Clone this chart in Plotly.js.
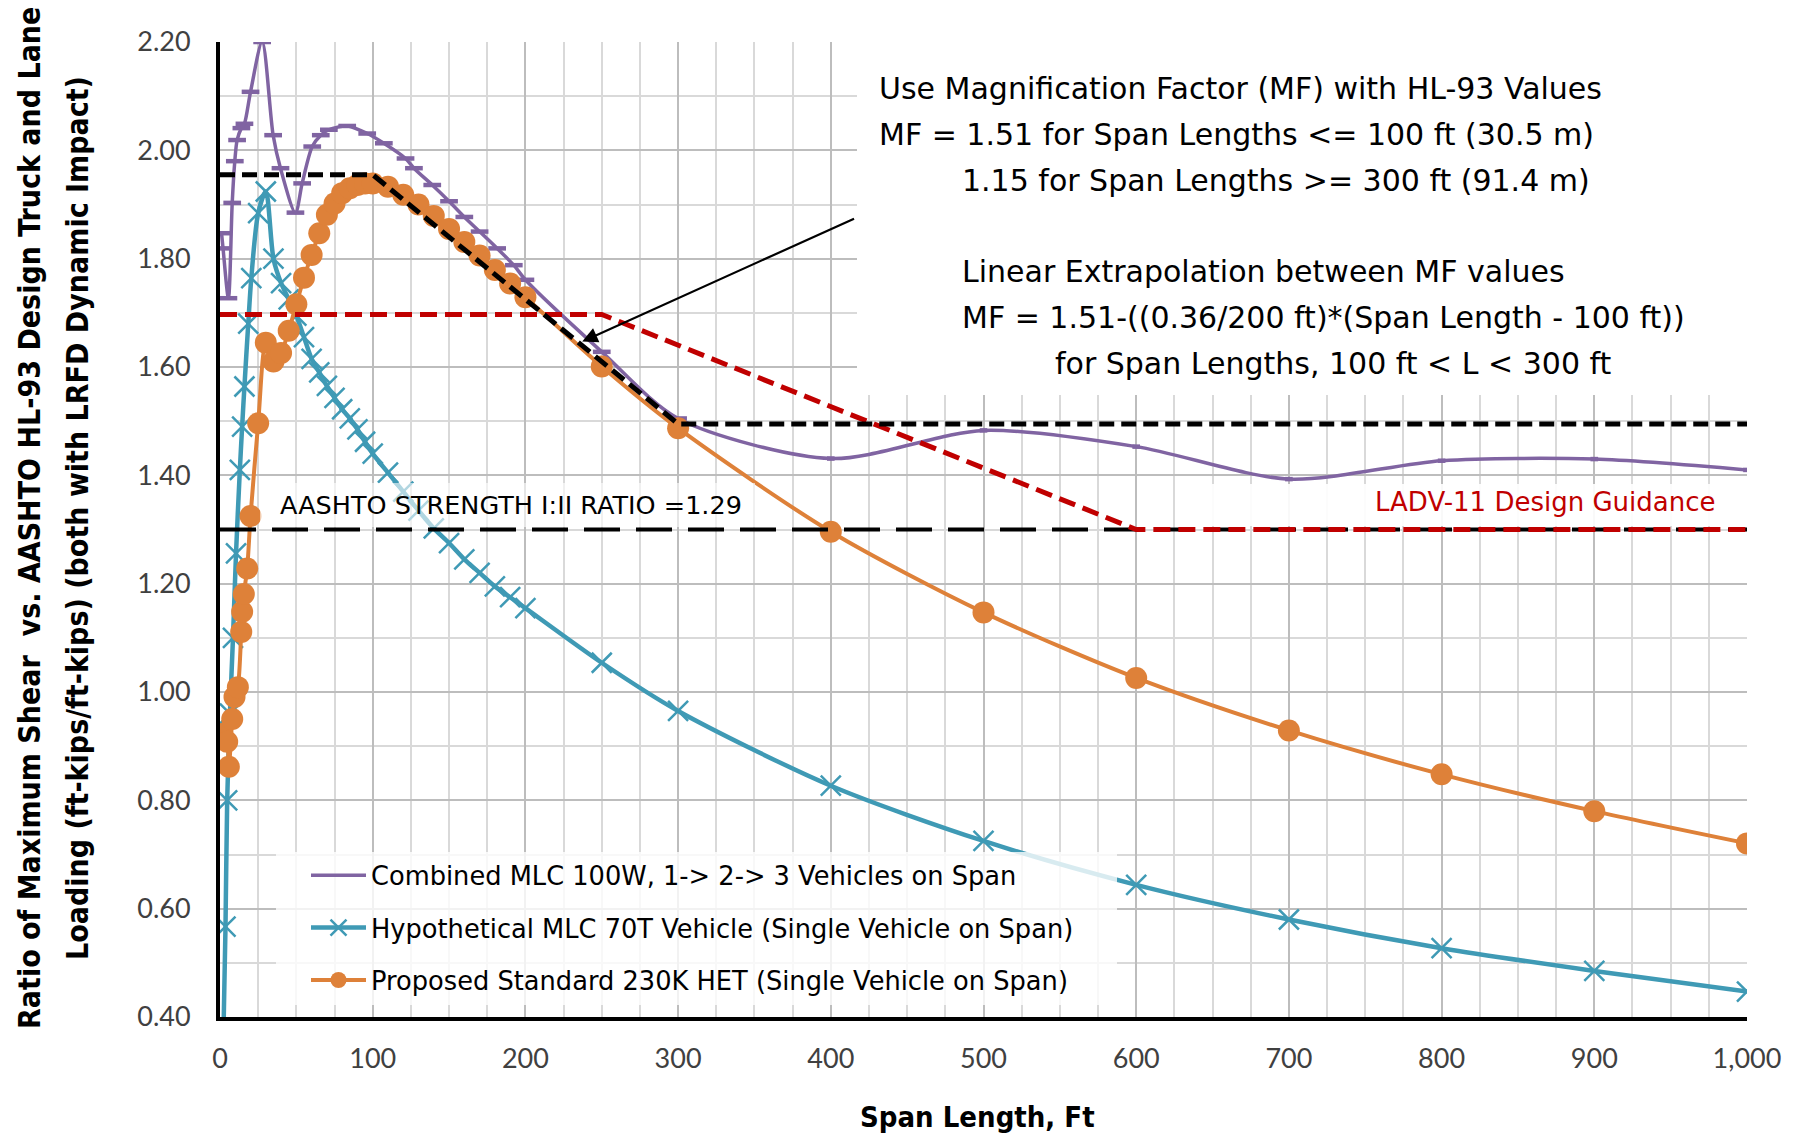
<!DOCTYPE html>
<html><head><meta charset="utf-8">
<script src="https://cdn.plot.ly/plotly-3.0.1.min.js"></script>
<style>html,body{margin:0;padding:0;background:#fff;}#chart{width:1802px;height:1141px;}</style>
</head><body><div id="chart"></div>
<script>
// ---- data ----
const combinedX = [1, 2, 5.5, 8, 9.7, 11.2, 14, 16, 20, 27.6, 34.8, 39.6, 49.4, 53.8, 60.4, 66, 71.3, 83.3, 96.4, 107.3, 121.5, 127, 139, 150, 160, 170, 181.5, 192.4, 200, 250, 300, 400, 500, 600, 700, 800, 900, 1000];
const combinedY = [1.847, 1.819, 1.727, 1.903, 1.98, 2.019, 2.041, 2.049, 2.108, 2.20, 2.028, 1.967, 1.885, 1.939, 2.007, 2.028, 2.038, 2.045, 2.031, 2.013, 1.985, 1.967, 1.936, 1.906, 1.877, 1.850, 1.819, 1.788, 1.761, 1.628, 1.505, 1.431, 1.483, 1.453, 1.393, 1.427, 1.430, 1.410];

const hypoX = [2, 3.6, 4.7, 6.5, 8.5, 10.5, 13, 14.5, 16, 18.5, 20.5, 25, 30, 35, 40, 45, 50, 55, 60, 65, 70, 75, 80, 85, 90, 95, 100, 110, 120, 130, 140, 150, 160, 170, 180, 190, 200, 250, 300, 400, 500, 600, 700, 800, 900, 1000];
const hypoY = [0.33, 0.567, 0.80, 0.96, 1.10, 1.256, 1.41, 1.49, 1.564, 1.68, 1.764, 1.884, 1.924, 1.80, 1.755, 1.725, 1.695, 1.655, 1.615, 1.59, 1.565, 1.543, 1.522, 1.505, 1.485, 1.462, 1.44, 1.405, 1.37, 1.335, 1.302, 1.275, 1.245, 1.22, 1.195, 1.175, 1.155, 1.054, 0.965, 0.827, 0.725, 0.644, 0.58, 0.527, 0.485, 0.447];

const hetX = [1.4, 4.7, 5.8, 8, 9.5, 11.7, 13.9, 14.5, 15.6, 17.8, 20, 25, 30, 35, 40, 45, 50, 55, 60, 65, 70, 75, 80, 85, 90, 95, 100, 110, 120, 130, 140, 150, 160, 170, 180, 190, 200, 250, 300, 400, 500, 600, 700, 800, 900, 1000];
const hetY = [0.9225, 0.908, 0.862, 0.95, 0.991, 1.009, 1.111, 1.148, 1.181, 1.228, 1.325, 1.496, 1.645, 1.610, 1.626, 1.667, 1.716, 1.765, 1.807, 1.847, 1.881, 1.902, 1.921, 1.930, 1.936, 1.939, 1.939, 1.933, 1.918, 1.900, 1.879, 1.855, 1.831, 1.806, 1.779, 1.754, 1.729, 1.601, 1.487, 1.296, 1.147, 1.026, 0.929, 0.848, 0.780, 0.7205];

const mfX = [0, 100, 300, 1000];
const mfY = [1.955, 1.955, 1.495, 1.495];
const ladvX = [0, 250, 600, 1000];
const ladvY = [1.697, 1.697, 1.30, 1.30];
const strengthX = [0, 1000];
const strengthY = [1.30, 1.30];

const seriesNames = [
  "Combined MLC 100W, 1-> 2-> 3 Vehicles on Span",
  "Hypothetical MLC 70T Vehicle (Single Vehicle on Span)",
  "Proposed Standard 230K HET (Single Vehicle on Span)"
];
const noteLines = [
  "Use Magnification Factor (MF) with HL-93 Values",
  "MF = 1.51 for Span Lengths <= 100 ft (30.5 m)",
  "1.15 for Span Lengths >= 300 ft (91.4 m)",
  "Linear Extrapolation between MF values",
  "MF = 1.51-((0.36/200 ft)*(Span Length - 100 ft))",
  "for Span Lengths, 100 ft < L < 300 ft"
];
const strengthLabel = "AASHTO STRENGTH I:II RATIO =1.29";
const ladvLabel = "LADV-11 Design Guidance";
const yTitle1 = "Ratio of Maximum Shear \u00a0vs. AASHTO HL-93 Design Truck and Lane";
const yTitle2 = "Loading (ft-kips/ft-kips) (both with LRFD Dynamic Impact)";
const xTitle = "Span Length, Ft";

// ---- layout helpers (pixel -> paper) ----
const W = 1802, H = 1141, ML = 220, MR = 55, MT = 42, MB = 124;
const PW = W - ML - MR, PH = H - MT - MB;
const px = X => (X - ML) / PW;
const py = Y => (H - MB - Y) / PH;

const TXT = "'DejaVu Sans', 'Open Sans', sans-serif";
const TICKF = "Lato, 'Open Sans', sans-serif";
const TITLEF = "'DejaVu Sans Condensed', 'DejaVu Sans', sans-serif";

const purple = "#8064A2", teal = "#3F9AB5", orange = "#DE8139", red = "#C00000";

const traces = [
  {x: combinedX, y: combinedY, name: seriesNames[0], type: "scatter", mode: "lines",
   legendgroup: "a",
   line: {color: purple, width: 3.5, shape: "spline", smoothing: 0.8},
   // horizontal dash markers (Excel "-" marker) drawn as short x-error bars
   error_x: {type: "data", symmetric: true, array: combinedX.map(v => v <= 300 ? 5.8 : 2.5),
             color: purple, thickness: 4.5, width: 0}},
  {x: hypoX, y: hypoY, name: seriesNames[1], type: "scatter", mode: "lines+markers",
   legendgroup: "b",
   line: {color: teal, width: 4.5, shape: "spline", smoothing: 0.8},
   marker: {symbol: "x-thin-open", color: teal, size: 20, line: {color: teal, width: 2.5}}},
  {x: hetX, y: hetY, name: seriesNames[2], type: "scatter", mode: "lines+markers",
   legendgroup: "c",
   line: {color: orange, width: 4, shape: "spline", smoothing: 0.8},
   marker: {symbol: "circle", size: 22, color: orange}},
  {x: strengthX, y: strengthY, type: "scatter", mode: "lines", showlegend: false, hoverinfo: "skip",
   line: {color: "#000", width: 4, dash: "36px,16px"}},
  {x: ladvX, y: ladvY, type: "scatter", mode: "lines", showlegend: false, hoverinfo: "skip",
   line: {color: red, width: 5, dash: "17px,8px"}},
  {x: mfX, y: mfY, type: "scatter", mode: "lines", showlegend: false, hoverinfo: "skip",
   line: {color: "#000", width: 5, dash: "15px,7px"}}
];

const noteX = [877, 877, 960, 960, 960, 1053];
const noteY = [88.5, 134.4, 180.4, 271, 317, 363];
const annotations = noteLines.map((t, i) => ({
  text: t, xref: "paper", yref: "paper", x: px(noteX[i]), y: py(noteY[i]),
  xanchor: "left", yanchor: "middle", showarrow: false,
  font: {family: TXT, size: 30, color: "#000"}
}));
annotations.push(
  {text: strengthLabel, xref: "paper", yref: "paper", x: px(278), y: py(505), xanchor: "left", yanchor: "middle",
   showarrow: false, font: {family: TXT, size: 25.5, color: "#000"}},
  {text: ladvLabel, xref: "paper", yref: "paper", x: px(1373), y: py(502), xanchor: "left", yanchor: "middle",
   showarrow: false, font: {family: TXT, size: 26, color: red}},
  {text: "", x: 237.2, y: 1.647, xref: "x", yref: "y", ax: 416.2, ay: 1.875, axref: "x", ayref: "y",
   showarrow: true, arrowhead: 2, arrowsize: 1.4, arrowwidth: 2.2, arrowcolor: "#000"},
  {text: yTitle1, xref: "paper", yref: "paper", x: px(29), y: py(518), xanchor: "center", yanchor: "middle",
   textangle: -90, showarrow: false, font: {family: TITLEF, size: 30, color: "#000", weight: "bold"}},
  {text: yTitle2, xref: "paper", yref: "paper", x: px(77), y: py(518), xanchor: "center", yanchor: "middle",
   textangle: -90, showarrow: false, font: {family: TITLEF, size: 30, color: "#000", weight: "bold"}},
  {text: xTitle, xref: "paper", yref: "paper", x: px(977), y: py(1117), xanchor: "center", yanchor: "middle",
   showarrow: false, font: {family: TITLEF, size: 29, color: "#000", weight: "bold"}}
);

const shapes = [
  {type: "rect", xref: "paper", yref: "paper", x0: px(857), x1: 1, y0: py(395), y1: 1,
   fillcolor: "#fff", line: {width: 0}, layer: "above"},
  {type: "rect", xref: "paper", yref: "paper", x0: px(260), x1: px(755), y0: py(527), y1: py(483),
   fillcolor: "rgba(255,255,255,0.6)", line: {width: 0}, layer: "above"},
  {type: "rect", xref: "paper", yref: "paper", x0: px(1180), x1: 1, y0: py(526), y1: py(484),
   fillcolor: "rgba(255,255,255,0.9)", line: {width: 0}, layer: "above"},
  {type: "rect", xref: "paper", yref: "paper", x0: px(276), x1: px(1117), y0: py(1005), y1: py(852),
   fillcolor: "rgba(255,255,255,0.8)", line: {width: 0}, layer: "above"}
];

const layout = {
  width: W, height: H,
  margin: {l: ML, r: MR, t: MT, b: MB, pad: 0},
  paper_bgcolor: "#fff", plot_bgcolor: "#fff",
  showlegend: true,
  legend: {x: px(306), y: py(852), xanchor: "left", yanchor: "top",
           bgcolor: "rgba(255,255,255,0)", borderwidth: 0,
           font: {family: TXT, size: 25.7, color: "#000"}, tracegroupgap: 16, itemwidth: 55},
  xaxis: {range: [0, 1000], dtick: 100, tickformat: ",", showgrid: true, gridcolor: "#BDBDBD", gridwidth: 2,
          minor: {dtick: 25, showgrid: true, gridcolor: "#D9D9D9", gridwidth: 1.5},
          zeroline: false, showline: true, linecolor: "#000", linewidth: 4, ticks: "",
          ticklabelstandoff: 15,
          tickfont: {family: TICKF, size: 27, color: "#404040"}},
  yaxis: {range: [0.4, 2.2], dtick: 0.2, tickformat: ".2f", showgrid: true, gridcolor: "#BDBDBD", gridwidth: 2,
          minor: {dtick: 0.1, showgrid: true, gridcolor: "#D9D9D9", gridwidth: 1.5},
          zeroline: false, showline: true, linecolor: "#000", linewidth: 4, ticks: "",
          ticklabelstandoff: 20,
          tickfont: {family: TICKF, size: 27, color: "#404040"}},
  annotations: annotations,
  shapes: shapes
};

Plotly.newPlot("chart", traces, layout, {displayModeBar: false, responsive: false});
</script>
</body></html>
